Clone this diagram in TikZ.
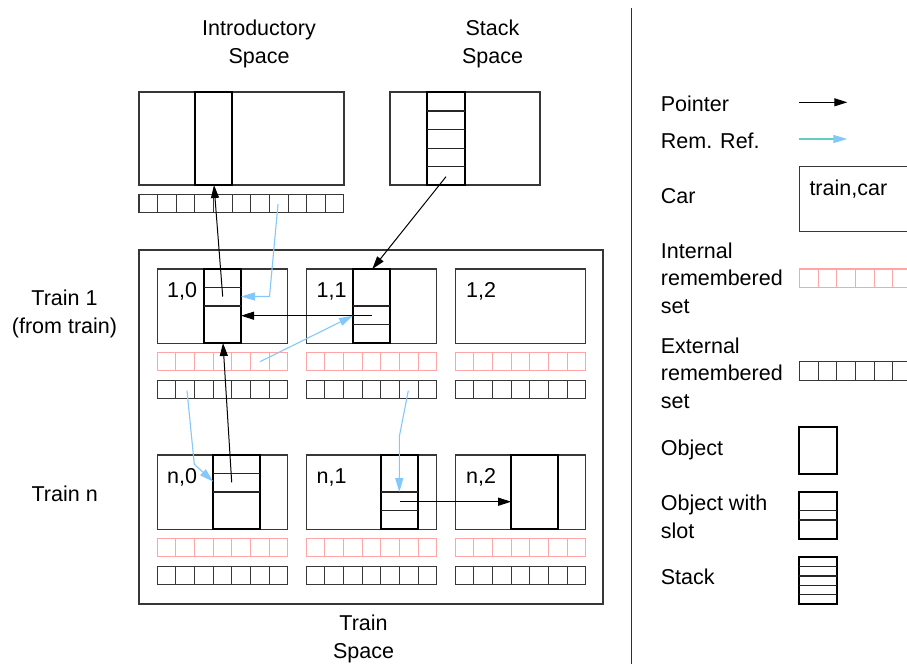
\documentclass[tikz,border=0pt]{standalone}
\usepackage{fontspec}
\setmainfont{Liberation Sans}
\usetikzlibrary{arrows.meta}

\definecolor{remblue}{RGB}{130,200,250}
\definecolor{remteal}{RGB}{100,205,195}
\definecolor{rempink}{RGB}{255,165,165}
\definecolor{divgreen}{RGB}{10,75,10}
\definecolor{boxgray}{RGB}{55,55,55}

\tikzset{
  lbl/.style={font=\fontsize{21.5}{27.5}\selectfont, inner sep=0pt, align=center},
  lbll/.style={font=\fontsize{21.5}{27.5}\selectfont, inner sep=0pt, align=left, anchor=base west},
  carbox/.style={draw=boxgray, line width=1.1pt, rectangle, inner sep=0pt, outer sep=0pt, anchor=north west},
  objbox/.style={draw=black, line width=2pt, rectangle, inner sep=0pt, outer sep=0pt, anchor=north west, fill=white},
  slotline/.style={draw=black!85, line width=1.2pt},
  ptr/.style={draw=black, line width=1pt, -{Triangle[length=13pt,width=8pt]}},
  remref/.style={draw=remblue, line width=1.1pt, -{Triangle[length=14pt,width=8pt]}},
  cell/.style={line width=1.05pt},
}

% a row of n remembered-set cells starting at (x,y)
\newcommand{\remrow}[4]{%
  \foreach \k in {1,...,#3}{%
    \draw[cell,#4] ({#1+(\k-1)*18.63},#2) rectangle ++(18.63,18.6);
  }%
}

\begin{document}
\begin{tikzpicture}[x=1pt,y=-1pt]
\useasboundingbox (0,0) rectangle (907,664);

% ---------- headings (anchored at the baseline of the last line) ----------
\node[lbl, anchor=base] (hIntro) at (259,63) {Introductory\\Space};
\node[lbl, anchor=base] (hStack) at (492.5,63) {Stack\\Space};

% ---------- introductory space ----------
\node[carbox, minimum width=205pt, minimum height=93pt] (intro) at (139,92) {};
\node[objbox, minimum width=37.3pt, minimum height=93pt] (introObj) at (194.7,92) {};
\remrow{139}{194.3}{11}{draw=boxgray}

% ---------- stack space ----------
\node[carbox, minimum width=150pt, minimum height=93pt] (stack) at (390,92) {};
\node[objbox, minimum width=37.3pt, minimum height=93pt] (stackObj) at (427.3,92) {};
\foreach \yy in {111,129.6,148.2,166.8}{\draw[slotline] (427.3,\yy) -- (464.6,\yy);}

% ---------- train space ----------
\node[carbox, minimum width=464pt, minimum height=354pt] (trains) at (139,250) {};

% cars with their internal (pink) and external (black) remembered sets
\foreach \nm/\cx/\cy in {c10/157.3/269, c11/306.3/269, c12/455.3/269,
                         cn0/157.3/455, cn1/306.3/455, cn2/455.3/455}{
  \node[carbox, minimum width=130.4pt, minimum height=74.3pt] (\nm) at (\cx,\cy) {};
  \remrow{\cx}{\cy+83.3}{7}{draw=rempink}
  \remrow{\cx}{\cy+111.3}{7}{draw=boxgray}
}

% car labels
\node[lbll] (l10) at (167,297) {1,0};
\node[lbll] (l11) at (316.5,297) {1,1};
\node[lbll] (l12) at (466,297) {1,2};
\node[lbll] (ln0) at (167,483) {n,0};
\node[lbll] (ln1) at (316.5,483) {n,1};
\node[lbll] (ln2) at (466,483) {n,2};

% objects
\node[objbox, minimum width=37pt, minimum height=74pt] (o10) at (204,269) {};
\draw[slotline] (204,287.7) -- (241,287.7) (204,306) -- (241,306);
\node[objbox, minimum width=37pt, minimum height=74pt] (o11) at (353,269) {};
\draw[slotline] (353,306) -- (390,306) (353,324.7) -- (390,324.7);
\node[objbox, minimum width=46.7pt, minimum height=74pt] (on0) at (213.3,455) {};
\draw[slotline] (213.3,473.3) -- (260,473.3) (213.3,492) -- (260,492);
\node[objbox, minimum width=37pt, minimum height=74pt] (on1) at (380.8,455) {};
\draw[slotline] (380.8,492) -- (417.8,492) (380.8,510.3) -- (417.8,510.3);
\node[objbox, minimum width=46.6pt, minimum height=74pt] (on2) at (511.2,455) {};

% side labels
\node[lbl, anchor=base] (tr1) at (64.5,333) {Train 1\\(from train)};
\node[lbl, anchor=base] (trn) at (64.7,501.7) {Train n};
\node[lbl, anchor=base] (tsp) at (363.5,658) {Train\\Space};

% ---------- connector end points ----------
\coordinate (p10slot) at (222.7,296.5);
\coordinate (pIntroIn) at (214,185);
\coordinate (pIntroRem) at (278,204);
\coordinate (pBend1) at (269.5,296.5);
\coordinate (p10right) at (241,296.5);
\coordinate (p11slot) at (371.7,315.7);
\coordinate (p10mid) at (241,315.7);
\coordinate (p10irs) at (260,361.7);
\coordinate (p11left) at (353,315.7);
\coordinate (pStackTop) at (446,176.7);
\coordinate (p11top) at (372.3,269);
\coordinate (pn0slot) at (231.7,482.3);
\coordinate (p10bot) at (223,343);
\coordinate (p10ers) at (187,390.7);
\coordinate (pBend2) at (194.3,464.3);
\coordinate (pn0left) at (213.3,481.7);
\coordinate (p11ers) at (408.3,390.7);
\coordinate (pBend3) at (399.3,436.7);
\coordinate (pn1top) at (399.3,492);
\coordinate (pn1slot) at (400,501.7);
\coordinate (pn2left) at (511.2,501.7);

% ---------- pointers and remembered references ----------
\draw[ptr] (p10slot) -- (pIntroIn);
\draw[remref] (pIntroRem) -- (pBend1) -- (p10right);
\draw[ptr] (p11slot) -- (p10mid);
\draw[remref] (p10irs) -- (p11left);
\draw[ptr] (pStackTop) -- (p11top);
\draw[ptr] (pn0slot) -- (p10bot);
\draw[remref] (p10ers) -- (pBend2) -- (pn0left);
\draw[remref] (p11ers) -- (pBend3) -- (pn1top);
\draw[ptr] (pn1slot) -- (pn2left);

% ---------- divider ----------
\coordinate (dTop) at (631.7,8);
\coordinate (dBot) at (631.7,664);
\draw[divgreen, line width=1.5pt] (dTop) -- (dBot);

% ---------- legend ----------
\node[lbll] (kPtr) at (660.7,111.7) {Pointer};
\coordinate (kPtrA) at (799.3,102.3);
\coordinate (kPtrB) at (847.3,102.3);
\draw[ptr] (kPtrA) -- (kPtrB);

\node[lbll] (kRem) at (660.7,148.3) {Rem. Ref.};
\coordinate (kRemA) at (799.3,139);
\coordinate (kRemB) at (847.3,139);
\draw[remref, draw=remteal, -{Triangle[length=14pt,width=8pt,color=remblue]}] (kRemA) -- (kRemB);

\node[lbll] (kCar) at (660.7,203.3) {Car};
\node[carbox, minimum width=130pt, minimum height=65pt] (kCarBox) at (799.7,166.7) {};
\node[lbll] (kCarTxt) at (809.3,195) {train,car};

\node[lbll] (kInt) at (660.7,313) {Internal\\remembered\\set};
\remrow{799.7}{269}{7}{draw=rempink}

\node[lbll] (kExt) at (660.7,408) {External\\remembered\\set};
\remrow{799.7}{361.7}{7}{draw=boxgray}

\node[lbll] (kObj) at (660.7,455) {Object};
\node[objbox, minimum width=37.7pt, minimum height=47.3pt] (kObjBox) at (799.3,426.7) {};

\node[lbll] (kSlot) at (660.7,538.3) {Object with\\slot};
\node[objbox, minimum width=37.7pt, minimum height=47.3pt] (kSlotBox) at (799.3,491.7) {};
\draw[slotline] (799.3,510.7) -- (837,510.7) (799.3,520) -- (837,520);

\node[lbll] (kStack) at (660.7,584.3) {Stack};
\node[objbox, minimum width=37.7pt, minimum height=47.3pt] (kStackBox) at (799.3,556.7) {};
\foreach \yy in {566.7,576,585.3,594.7}{\draw[slotline] (799.3,\yy) -- (837,\yy);}
\end{tikzpicture}
\end{document}
